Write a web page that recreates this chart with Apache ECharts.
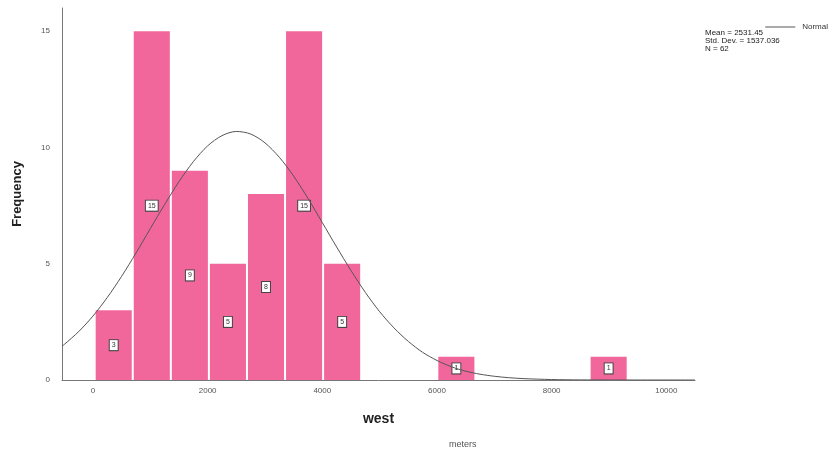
<!DOCTYPE html>
<html>
<head>
<meta charset="utf-8">
<script src="https://cdn.jsdelivr.net/npm/echarts@6/dist/echarts.min.js"></script>
<style>html,body{margin:0;padding:0;background:#fff}#c{width:835px;height:452px}</style>
</head>
<body>
<div id="c"></div>
<script>
// Histogram bins (meters) and frequencies
var binStarts = [30, 694, 1358, 2022, 2686, 3350, 4014, 6006, 8662];
var binWidth = 664;
var counts = [3, 15, 9, 5, 8, 15, 5, 1, 1];
// Normal curve points
var curveX = [-540, -500, -250, 0, 250, 500, 750, 1000, 1250, 1500, 1750, 2000, 2250, 2500, 2750, 3000, 3250, 3500, 3750, 4000, 4250, 4500, 4750, 5000, 5250, 5500, 5750, 6000, 6250, 6500, 6750, 7000, 7250, 7500, 8000, 8500, 9000, 10500];
var curveY = [1.45, 1.53, 2.08, 2.75, 3.55, 4.46, 5.46, 6.51, 7.55, 8.53, 9.39, 10.07, 10.51, 10.69, 10.58, 10.20, 9.58, 8.77, 7.81, 6.77, 5.72, 4.71, 3.77, 2.94, 2.24, 1.66, 1.19, 0.84, 0.57, 0.38, 0.25, 0.16, 0.10, 0.06, 0.02, 0.005, 0.001, 0];
var xTicks = [0, 2000, 4000, 6000, 8000, 10000];
var yTicks = [0, 5, 10, 15];
var statsText = ['Mean = 2531.45', 'Std. Dev. = 1537.036', 'N = 62'];

var barData = binStarts.map(function (s, i) { return [s, s + binWidth, counts[i]]; });
var curveData = curveX.map(function (x, i) { return [x, curveY[i]]; });

var chart = echarts.init(document.getElementById('c'));
chart.setOption({
  animation: false,
  backgroundColor: '#fff',
  grid: { left: 62, right: 140, top: 8, bottom: 72 },
  legend: {
    data: [{ name: 'Normal', icon: 'path://M0,0H30V1H0Z' }],
    right: 2, top: 18, itemWidth: 34, itemHeight: 1, itemGap: 2,
    textStyle: { fontSize: 8, color: '#333', fontFamily: 'Liberation Sans' }
  },
  graphic: [
    { type: 'text', left: 705, top: 29, style: { text: statsText.join('\n'), fontSize: 8, lineHeight: 8, fill: '#222', fontFamily: 'Liberation Sans' } },
    { type: 'text', left: 449, top: 440, style: { text: 'meters', fontSize: 9, fill: '#555', fontFamily: 'Liberation Sans' } }
  ],
  xAxis: {
    type: 'value', min: -540, max: 10500,
    name: 'west', nameLocation: 'middle', nameGap: 32,
    nameTextStyle: { fontSize: 14, fontWeight: 'bold', color: '#222', fontFamily: 'Liberation Sans' },
    axisLine: { onZero: false, lineStyle: { color: '#777' } },
    axisTick: { show: false },
    splitLine: { show: false },
    axisLabel: { customValues: xTicks, formatter: function (v) { return String(v); }, fontSize: 8, color: '#555', margin: 7, fontFamily: 'Liberation Sans' }
  },
  yAxis: {
    type: 'value', min: 0, max: 16,
    name: 'Frequency', nameLocation: 'middle', nameGap: 38,
    nameTextStyle: { fontSize: 13, fontWeight: 'bold', color: '#222', fontFamily: 'Liberation Sans' },
    axisLine: { show: true, onZero: false, lineStyle: { color: '#777' } },
    axisTick: { show: false },
    splitLine: { show: false },
    axisLabel: { customValues: yTicks, fontSize: 8, color: '#555', margin: 12, fontFamily: 'Liberation Sans' }
  },
  series: [
    {
      type: 'custom',
      data: barData,
      encode: { x: [0, 1], y: 2 },
      z: 2,
      renderItem: function (params, api) {
        var p0 = api.coord([api.value(0), 0]);
        var p1 = api.coord([api.value(1), api.value(2)]);
        var x0 = p0[0] + 1, x1 = p1[0] - 1;
        var cx = (p0[0] + p1[0]) / 2;
        var cy = (p0[1] + p1[1]) / 2;
        return {
          type: 'group',
          children: [
            { type: 'rect', shape: { x: x0, y: p1[1], width: x1 - x0, height: p0[1] - p1[1] },
              style: { fill: '#f2679b' } },
            { type: 'text', x: cx, y: cy, z2: 10,
              style: { text: String(api.value(2)), fontSize: 7, fill: '#333', align: 'center', verticalAlign: 'middle',
                backgroundColor: '#fff', borderColor: '#444', borderWidth: 1, padding: [2, 2, 1, 2], fontFamily: 'Liberation Sans' } }
          ]
        };
      }
    },
    {
      name: 'Normal', type: 'line', data: curveData, smooth: 0.3, showSymbol: false, z: 3,
      lineStyle: { color: '#555', width: 1 }, itemStyle: { color: '#555' }
    }
  ]
});
</script>
</body>
</html>
